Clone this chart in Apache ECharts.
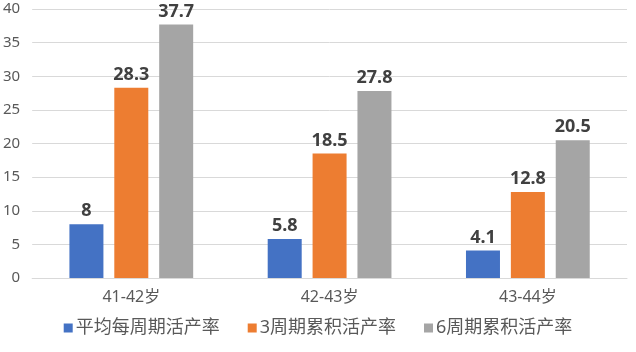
<!DOCTYPE html>
<html>
<head>
<meta charset="utf-8">
<script src="https://cdn.jsdelivr.net/npm/echarts@6/dist/echarts.min.js"></script>
<style>
  html, body { margin: 0; padding: 0; background: #fff; }
  #chart { width: 636px; height: 352px; }
</style>
</head>
<body>
<div id="chart"></div>
<script>
const categories = ['41-42岁', '42-43岁', '43-44岁'];
const seriesNames = ['平均每周期活产率', '3周期累积活产率', '6周期累积活产率'];
const avgPerCycle = [8, 5.8, 4.1];
const cum3 = [28.3, 18.5, 12.8];
const cum6 = [37.7, 27.8, 20.5];
const colors = ['#4472C4', '#ED7D31', '#A5A5A5'];

const font = '"Noto Sans", "Noto Sans CJK SC", sans-serif';

function makeSeries(name, data, color) {
  return {
    name: name,
    type: 'bar',
    data: data,
    barWidth: 34,
    barGap: '32%',
    itemStyle: { color: color },
    label: {
      show: true,
      position: 'top',
      distance: 4,
      color: '#404040',
      fontSize: 18,
      fontWeight: 'bold',
      fontFamily: font
    }
  };
}

const chart = echarts.init(document.getElementById('chart'));
chart.setOption({
  animation: false,
  color: colors,
  grid: { left: 32, right: 9, top: 9, bottom: 74 },
  legend: {
    data: seriesNames,
    bottom: 10,
    left: 'center',
    icon: 'rect',
    itemWidth: 9,
    itemHeight: 9,
    itemGap: 28,
    textStyle: { fontSize: 18, color: '#595959', fontFamily: font, padding: [0, 0, 0, -2] }
  },
  xAxis: {
    type: 'category',
    data: categories,
    axisLine: { lineStyle: { color: '#d9d9d9' } },
    axisTick: { show: false },
    axisLabel: { color: '#595959', fontSize: 16, fontFamily: font, margin: 11 }
  },
  yAxis: {
    type: 'value',
    min: 0,
    max: 40,
    interval: 5,
    axisLine: { show: false },
    axisTick: { show: false },
    splitLine: { lineStyle: { color: '#d9d9d9' } },
    axisLabel: { color: '#595959', fontSize: 15, fontFamily: font, margin: 12 }
  },
  series: [
    makeSeries(seriesNames[0], avgPerCycle, colors[0]),
    makeSeries(seriesNames[1], cum3, colors[1]),
    makeSeries(seriesNames[2], cum6, colors[2])
  ]
});
</script>
</body>
</html>
